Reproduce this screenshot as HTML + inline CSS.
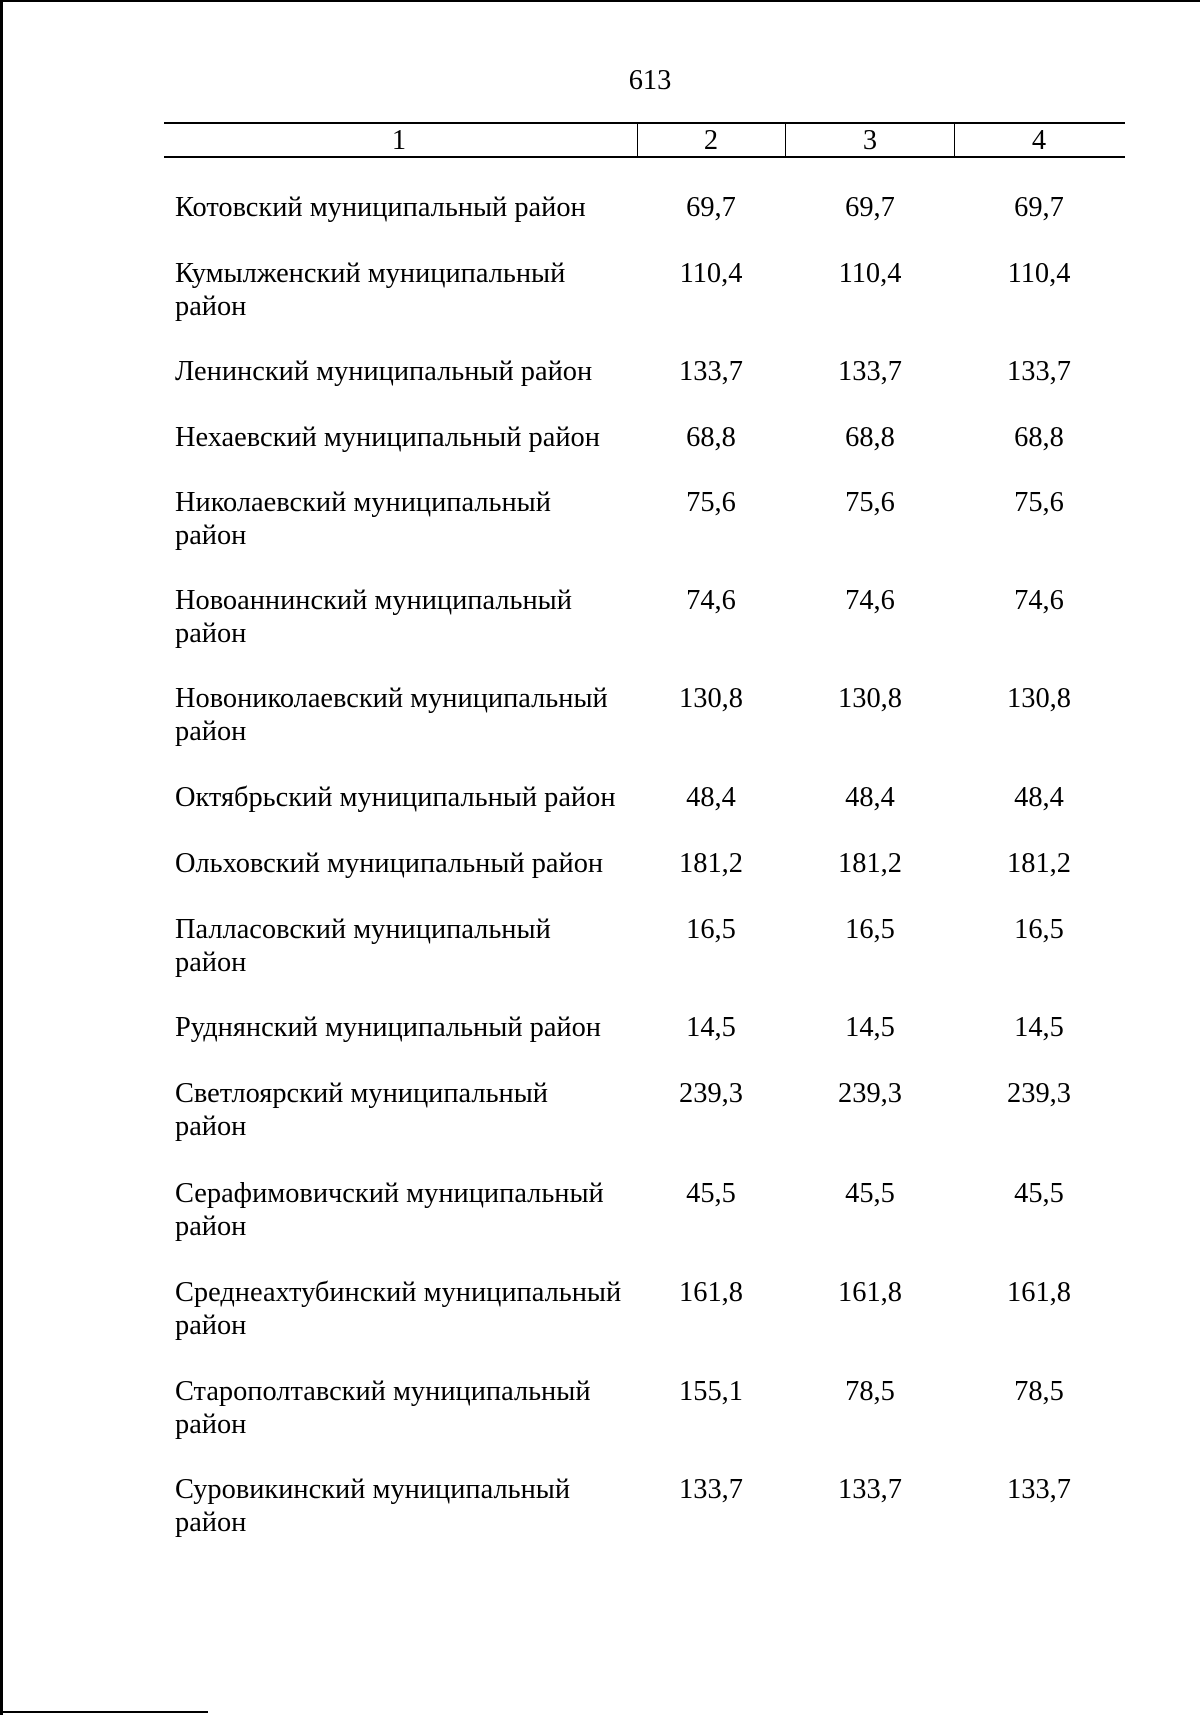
<!DOCTYPE html>
<html><head><meta charset="utf-8"><style>
body{margin:0;width:1200px;height:1715px;background:#fff;position:relative;overflow:hidden;font-family:"Liberation Serif","Noto Serif CJK SC",serif;color:#000;font-size:28.4px}
.a{position:absolute;white-space:nowrap;line-height:33px}
.n{position:absolute;transform:translateX(-50%);white-space:nowrap;line-height:33px}
.l{position:absolute;background:#000}
</style></head><body>
<div class="l" style="left:0;top:0;width:1200px;height:2px"></div>
<div class="l" style="left:0;top:0;width:3px;height:1715px"></div>
<div class="l" style="left:0;top:1711px;width:208px;height:2px"></div>
<div class="n" style="left:650px;top:64px">613</div>
<div class="l" style="left:164px;top:122px;width:961px;height:2px"></div>
<div class="l" style="left:164px;top:156px;width:961px;height:2px"></div>
<div class="l" style="left:637px;top:122px;width:1px;height:35px"></div>
<div class="l" style="left:785px;top:122px;width:1px;height:35px"></div>
<div class="l" style="left:954px;top:122px;width:1px;height:35px"></div>
<div class="n" style="left:399px;top:124px">1</div>
<div class="n" style="left:711px;top:124px">2</div>
<div class="n" style="left:870px;top:124px">3</div>
<div class="n" style="left:1039px;top:124px">4</div>

<div class="a" style="left:175px;top:191px">Котовский муниципальный район</div>
<div class="n" style="left:711px;top:191px">69,7</div><div class="n" style="left:870px;top:191px">69,7</div><div class="n" style="left:1039px;top:191px">69,7</div>

<div class="a" style="left:175px;top:257px">Кумылженский муниципальный<br>район</div>
<div class="n" style="left:711px;top:257px">110,4</div><div class="n" style="left:870px;top:257px">110,4</div><div class="n" style="left:1039px;top:257px">110,4</div>

<div class="a" style="left:175px;top:355px">Ленинский муниципальный район</div>
<div class="n" style="left:711px;top:355px">133,7</div><div class="n" style="left:870px;top:355px">133,7</div><div class="n" style="left:1039px;top:355px">133,7</div>

<div class="a" style="left:175px;top:421px">Нехаевский муниципальный район</div>
<div class="n" style="left:711px;top:421px">68,8</div><div class="n" style="left:870px;top:421px">68,8</div><div class="n" style="left:1039px;top:421px">68,8</div>

<div class="a" style="left:175px;top:486px">Николаевский муниципальный<br>район</div>
<div class="n" style="left:711px;top:486px">75,6</div><div class="n" style="left:870px;top:486px">75,6</div><div class="n" style="left:1039px;top:486px">75,6</div>

<div class="a" style="left:175px;top:584px">Новоаннинский муниципальный<br>район</div>
<div class="n" style="left:711px;top:584px">74,6</div><div class="n" style="left:870px;top:584px">74,6</div><div class="n" style="left:1039px;top:584px">74,6</div>

<div class="a" style="left:175px;top:682px">Новониколаевский муниципальный<br>район</div>
<div class="n" style="left:711px;top:682px">130,8</div><div class="n" style="left:870px;top:682px">130,8</div><div class="n" style="left:1039px;top:682px">130,8</div>

<div class="a" style="left:175px;top:781px">Октябрьский муниципальный район</div>
<div class="n" style="left:711px;top:781px">48,4</div><div class="n" style="left:870px;top:781px">48,4</div><div class="n" style="left:1039px;top:781px">48,4</div>

<div class="a" style="left:175px;top:847px">Ольховский муниципальный район</div>
<div class="n" style="left:711px;top:847px">181,2</div><div class="n" style="left:870px;top:847px">181,2</div><div class="n" style="left:1039px;top:847px">181,2</div>

<div class="a" style="left:175px;top:913px">Палласовский муниципальный<br>район</div>
<div class="n" style="left:711px;top:913px">16,5</div><div class="n" style="left:870px;top:913px">16,5</div><div class="n" style="left:1039px;top:913px">16,5</div>

<div class="a" style="left:175px;top:1011px">Руднянский муниципальный район</div>
<div class="n" style="left:711px;top:1011px">14,5</div><div class="n" style="left:870px;top:1011px">14,5</div><div class="n" style="left:1039px;top:1011px">14,5</div>

<div class="a" style="left:175px;top:1077px">Светлоярский муниципальный<br>район</div>
<div class="n" style="left:711px;top:1077px">239,3</div><div class="n" style="left:870px;top:1077px">239,3</div><div class="n" style="left:1039px;top:1077px">239,3</div>

<div class="a" style="left:175px;top:1177px">Серафимовичский муниципальный<br>район</div>
<div class="n" style="left:711px;top:1177px">45,5</div><div class="n" style="left:870px;top:1177px">45,5</div><div class="n" style="left:1039px;top:1177px">45,5</div>

<div class="a" style="left:175px;top:1276px">Среднеахтубинский муниципальный<br>район</div>
<div class="n" style="left:711px;top:1276px">161,8</div><div class="n" style="left:870px;top:1276px">161,8</div><div class="n" style="left:1039px;top:1276px">161,8</div>

<div class="a" style="left:175px;top:1375px">Старополтавский муниципальный<br>район</div>
<div class="n" style="left:711px;top:1375px">155,1</div><div class="n" style="left:870px;top:1375px">78,5</div><div class="n" style="left:1039px;top:1375px">78,5</div>

<div class="a" style="left:175px;top:1473px">Суровикинский муниципальный<br>район</div>
<div class="n" style="left:711px;top:1473px">133,7</div><div class="n" style="left:870px;top:1473px">133,7</div><div class="n" style="left:1039px;top:1473px">133,7</div>
</body></html>
